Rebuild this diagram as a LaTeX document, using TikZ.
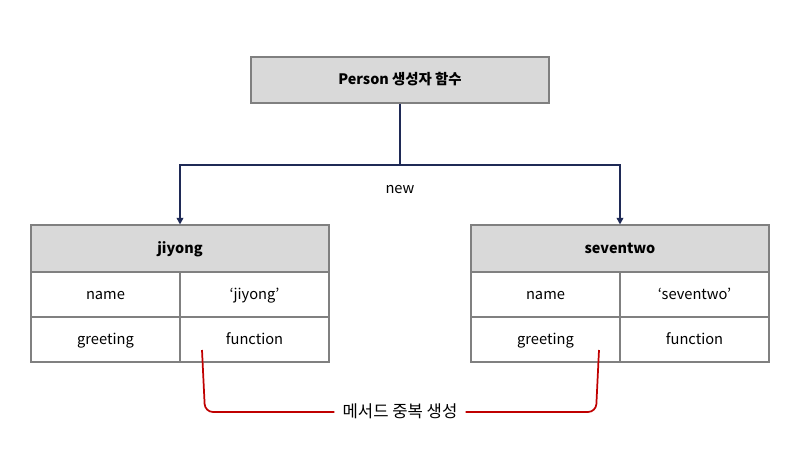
\documentclass[tikz,border=0pt]{standalone}
\usepackage{fontspec}
\setmainfont{Noto Sans CJK KR}
\usetikzlibrary{arrows.meta}
\definecolor{gridgray}{HTML}{808080}
\definecolor{headfill}{HTML}{D9D9D9}
\definecolor{navy}{HTML}{1F2A56}
\definecolor{dupred}{HTML}{C00000}
\begin{document}
\begin{tikzpicture}[x=0.75pt,y=-0.75pt,
  cell/.style={draw=gridgray, line width=0.8pt, minimum width=111.75pt, minimum height=33.75pt, inner sep=0pt, text height=9.2pt, text depth=1.6pt, font=\fontsize{11}{13}\selectfont},
  head/.style={draw=gridgray, line width=0.8pt, fill=headfill, minimum width=223.5pt, minimum height=35.25pt, inner sep=0pt, text height=9pt, text depth=1.8pt, font=\fontsize{10.8}{13}\selectfont\bfseries},
  link/.style={draw=navy, line width=1.5pt, -{Triangle[length=5pt,width=5pt]}},
  dup/.style={draw=dupred, line width=1.3pt, rounded corners=6pt}]
\useasboundingbox (0,0) rectangle (800,450);
\fill[white] (0,0) rectangle (800,450);
% top box
\node[head, minimum height=34.5pt] (top) at (400,80) {Person 생성자 함수};
% left table
\node[head] (lhead) at (180,248.5) {jiyong};
\node[cell] (lname) at (105.5,294.5) {name};
\node[cell] (lnamev) at (254.5,294.5) {‘jiyong’};
\node[cell] (lgreet) at (105.5,339.5) {greeting};
\node[cell] (lfunc) at (254.5,339.5) {function};
% right table
\node[head] (rhead) at (620,248.5) {seventwo};
\node[cell] (rname) at (545.5,294.5) {name};
\node[cell] (rnamev) at (694.5,294.5) {‘seventwo’};
\node[cell] (rgreet) at (545.5,339.5) {greeting};
\node[cell] (rfunc) at (694.5,339.5) {function};
% connectors
\coordinate (bus) at (400,165);
\draw[navy, line width=1.5pt] (top.south) -- (bus);
\draw[link] (bus) -| (lhead.north);
\draw[link] (bus) -| (rhead.north);
\node[font=\fontsize{11}{13}\selectfont] (new) at (400,190) {new};
% duplicate methods
\node[font=\fontsize{12.5}{15}\selectfont, inner sep=6pt] (dupl) at (400,411) {메서드 중복 생성};
\coordinate (ls) at (202,350);
\coordinate (rs) at (599,350);
\draw[dup] (ls) -- (205,412) -- (dupl.west |- 0,412);
\draw[dup] (rs) -- (596,412) -- (dupl.east |- 0,412);
\end{tikzpicture}
\end{document}
